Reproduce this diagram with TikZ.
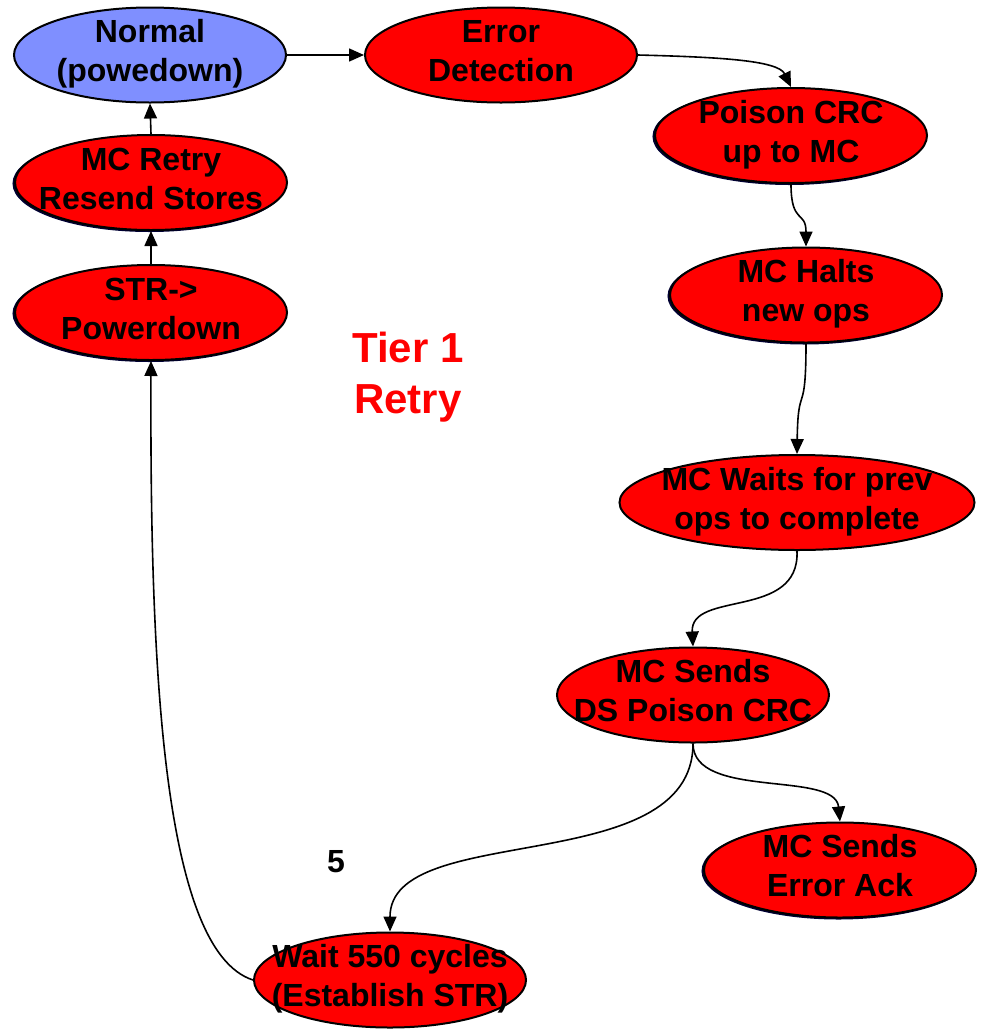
\documentclass[tikz,border=0pt]{standalone}
\usepackage{fontspec}
\setmainfont{Liberation Sans}
\usetikzlibrary{arrows.meta,shapes.geometric,shadows}
\definecolor{stateblue}{RGB}{127,143,255}
\definecolor{statered}{RGB}{255,0,0}
% fixed line height so every two-line label sits the same way in its ellipse
\newcommand\lnstrut{\rule[-10pt]{0pt}{34.5pt}}
\newcommand\tierstrut{\rule[-18pt]{0pt}{51pt}}
\begin{document}
\begin{tikzpicture}[x=1pt,y=-1pt,
  state/.style={ellipse, draw=black, line width=2pt, minimum width=272pt,
    minimum height=95pt, inner sep=0pt, fill=statered},
  twin/.style={copy shadow={shadow xshift=-1.5pt, shadow yshift=-1pt,
    draw=black!80!blue, fill=statered}},
  txt/.style={align=center, font=\fontsize{32}{39}\selectfont\bfseries, inner sep=0pt},
  link/.style={line width=1.6pt, -{Triangle[length=15pt,width=13pt]}}]

\fill[white] (0,0) rectangle (984,1029);
\useasboundingbox (0,0) rectangle (984,1029);

% states
\node[state, fill=stateblue] (normal) at (150,55) {};
\node[state] (errdet) at (501,55) {};
\node[state, twin] (poison) at (791,135.5) {};
\node[state, twin] (halts) at (806,295) {};
\node[state, minimum width=355pt] (waits) at (797,502.5) {};
\node[state] (dspoison) at (693,695) {};
\node[state, twin] (errack) at (840,870) {};
\node[state] (wait550) at (390,980) {};
\node[state, twin] (strpd) at (151,312.5) {};
\node[state, twin] (retry) at (151,182.5) {};

% labels
\node[txt] (normal-t) at (normal) {\lnstrut Normal\\\lnstrut(powedown)};
\node[txt] (errdet-t) at (errdet) {\lnstrut Error\\\lnstrut Detection};
\node[txt] (poison-t) at (poison) {\lnstrut Poison CRC\\\lnstrut up to MC};
\node[txt] (halts-t) at (halts) {\lnstrut MC Halts\\\lnstrut new ops};
\node[txt] (waits-t) at (waits) {\lnstrut MC Waits for prev\\\lnstrut ops to complete};
\node[txt] (dspoison-t) at (dspoison) {\lnstrut MC Sends\\\lnstrut DS Poison CRC};
\node[txt] (errack-t) at (errack) {\lnstrut MC Sends\\\lnstrut Error Ack};
\node[txt] (wait550-t) at (wait550) {\lnstrut Wait 550 cycles\\\lnstrut(Establish STR)};
\node[txt] (strpd-t) at (strpd) {\lnstrut STR-{}>\\\lnstrut Powerdown};
\node[txt] (retry-t) at (retry) {\lnstrut MC Retry\\\lnstrut Resend Stores};

\node[align=center, inner sep=0pt, text=statered,
  font=\fontsize{42}{51}\selectfont\bfseries] (tier) at (408,380)
  {\tierstrut Tier 1\\\tierstrut Retry};
\node[txt] (five) at (336,862) {5};

% transitions
\draw[link] (normal.east) -- (errdet.west);
\draw[link] (errdet.east) .. controls (715,57) and (778,60) .. (poison.north);
\draw[link] (poison.south) .. controls (791,225) and (806,210) .. (halts.north);
\draw[link] (halts.south) .. controls (806,420) and (798,380) .. (waits.south |- waits.north);
\draw[link] (waits.south) .. controls (800,620) and (690,590) .. (dspoison.north);
\draw[link] (dspoison.south) .. controls (693,800) and (835,770) .. (errack.north);
\draw[link] (dspoison.south) .. controls (693,880) and (390,820) .. (wait550.north);
\draw[link] (wait550.west) .. controls (160,950) and (150,650) .. (strpd.south);
\draw[link] (strpd.north) -- (retry.south);
\draw[link] (retry.north) -- (normal.south);
\end{tikzpicture}
\end{document}
